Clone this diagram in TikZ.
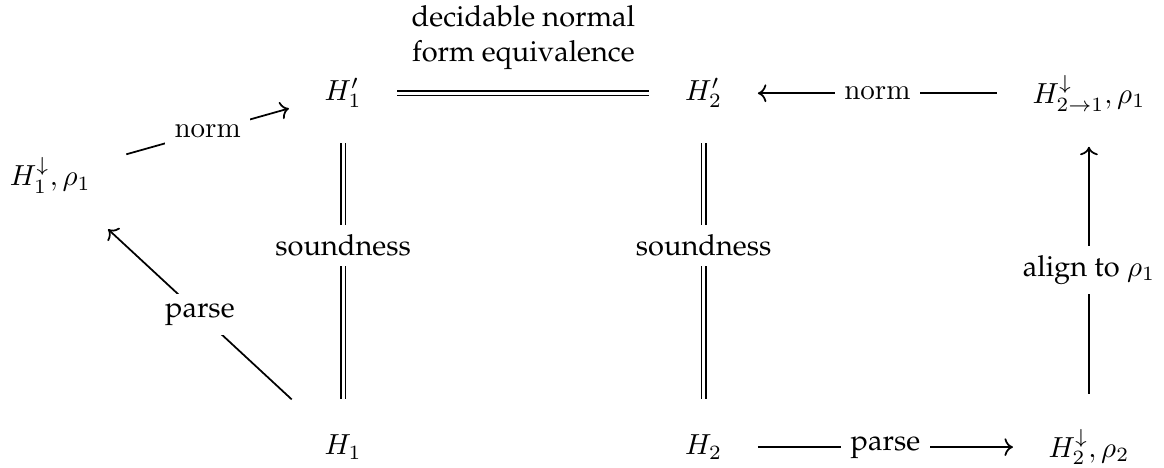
\documentclass[tikz,border=0pt]{standalone}
\usepackage[T1]{fontenc}
\renewcommand{\rmdefault}{ppl}
\usetikzlibrary{arrows.meta}
\begin{document}
\begin{tikzpicture}[
    >={Computer Modern Rightarrow},
    line width=0.6pt,
    obj/.style={inner sep=12pt},
    lab/.style={midway, fill=white},
    eqline/.style={double, double distance=1pt, line width=0.5pt},
    arr/.style={->}]
  \useasboundingbox (0,0) rectangle (14.11,-5.67);
  \node[obj] (l1) at (0.61,-2.13) {$H_1^{\downarrow}, \rho_1$};
  \node[obj] (p1) at (4.16,-1.13) {$H_1'$};
  \node[obj] (p2) at (8.53,-1.13) {$H_2'$};
  \node[obj] (r1) at (13.2,-1.13) {$H_{2\to1}^{\downarrow}, \rho_1$};
  \node[obj] (h1) at (4.16,-5.42) {$H_1$};
  \node[obj] (h2) at (8.53,-5.42) {$H_2$};
  \node[obj] (r2) at (13.2,-5.42) {$H_2^{\downarrow}, \rho_2$};

  \draw[arr] (l1) -- node[lab] {$\mathrm{norm}$} (p1);
  \draw[arr] (h1) -- node[lab] {parse} (l1);
  \draw[eqline] (p1) -- node[midway, above=4.5pt, align=center] {decidable normal\\form equivalence} (p2);
  \draw[eqline] (p1) -- node[lab, pos=0.4] {soundness} (h1);
  \draw[eqline] (p2) -- node[lab, pos=0.4] {soundness} (h2);
  \draw[arr] (r1) -- node[lab] {$\mathrm{norm}$} (p2);
  \draw[arr] (h2) -- node[lab] {parse} (r2);
  \draw[arr] (r2) -- node[lab] {align to $\rho_1$} (r1);
\end{tikzpicture}
\end{document}
